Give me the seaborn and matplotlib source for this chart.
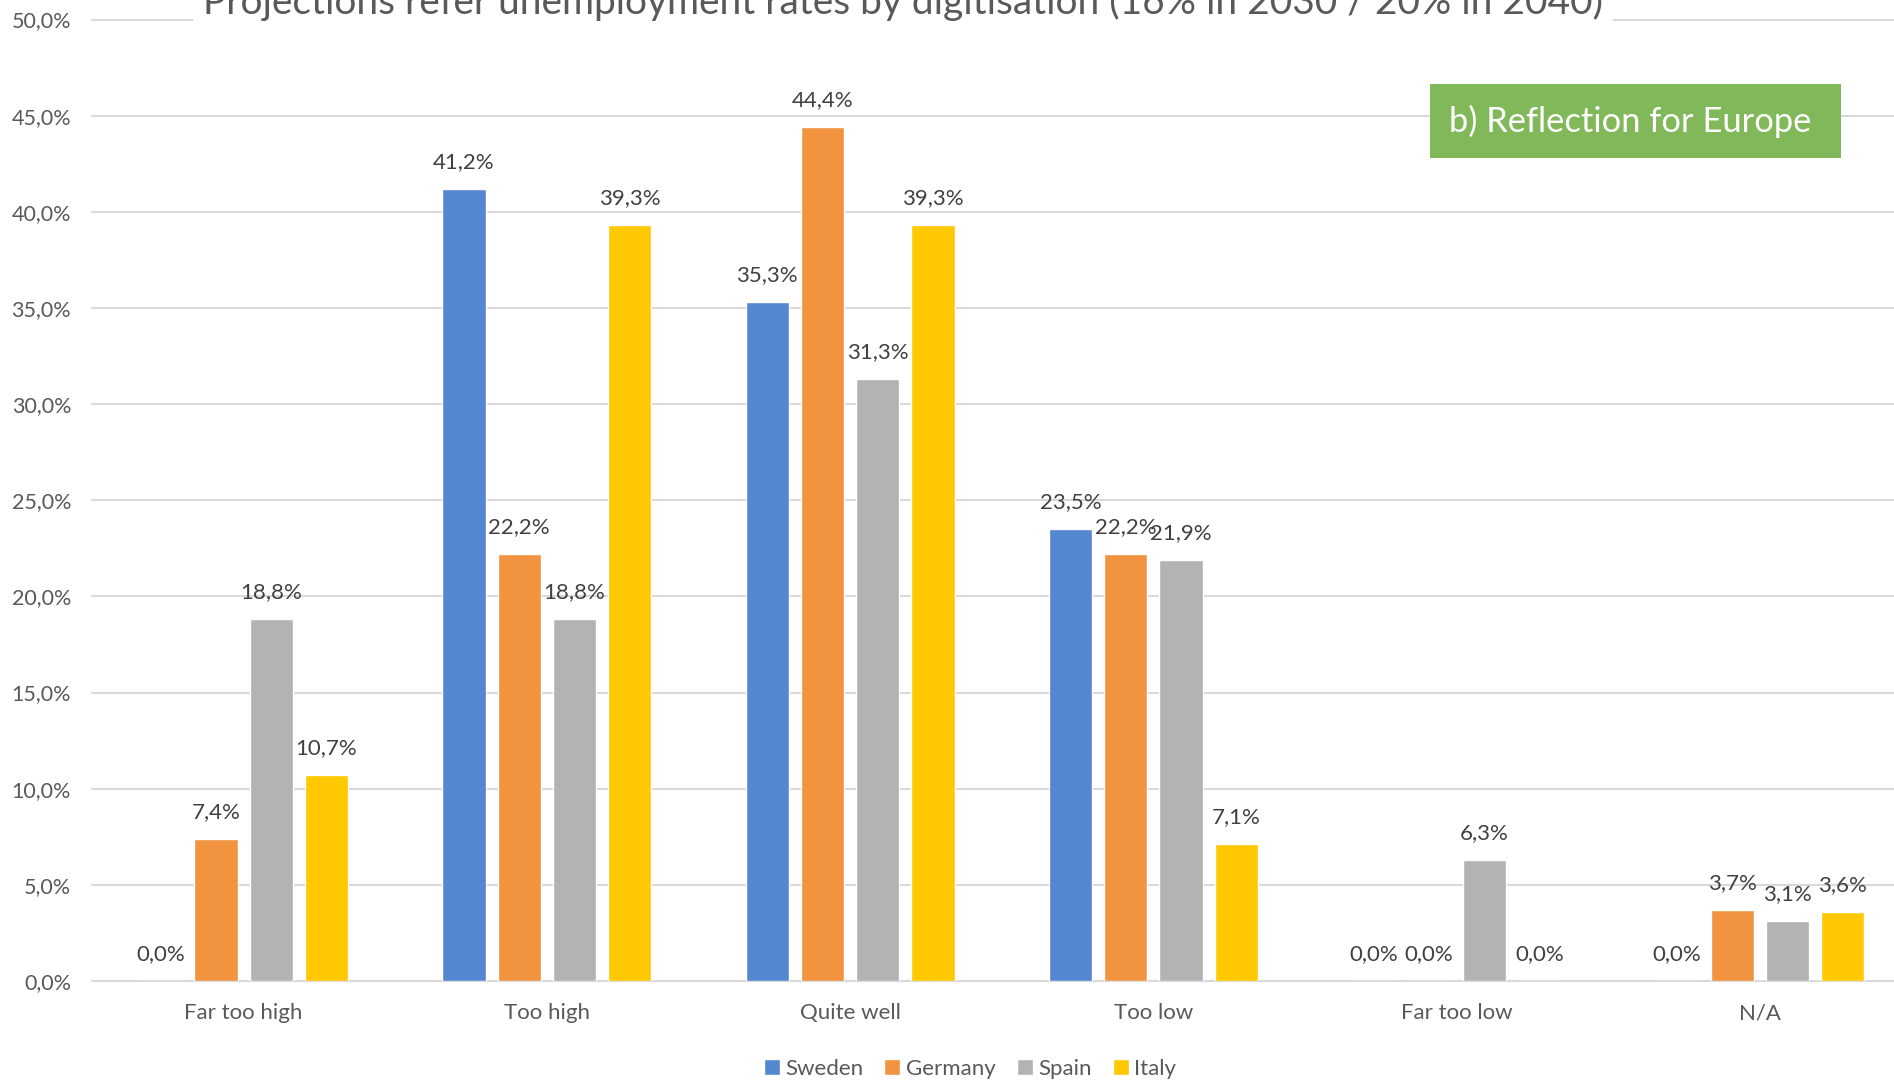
import numpy as np
import pandas as pd
import seaborn as sns
import matplotlib
matplotlib.use("Agg")
import matplotlib.pyplot as plt
from matplotlib.patches import Rectangle
from matplotlib.ticker import FuncFormatter, MultipleLocator

# Survey answers (share of respondents, %)
categories = ["Far too high", "Too high", "Quite well", "Too low", "Far too low", "N/A"]
countries = ["Sweden", "Germany", "Spain", "Italy"]
sweden = [0.0, 41.2, 35.3, 23.5, 0.0, 0.0]
germany = [7.4, 22.2, 44.4, 22.2, 0.0, 3.7]
spain = [18.8, 18.8, 31.3, 21.9, 6.3, 3.1]
italy = [10.7, 39.3, 39.3, 7.1, 0.0, 3.6]
colors = ["#5587D1", "#F29340", "#B3B3B3", "#FFC800"]

title = "Projections refer unemployment rates by digitisation (16% in 2030 / 20% in 2040)"
badge = "b) Reflection for Europe"

series = {"Sweden": sweden, "Germany": germany, "Spain": spain, "Italy": italy}
df = pd.DataFrame(
    [(cat, c, series[c][i]) for c in countries for i, cat in enumerate(categories)],
    columns=["answer", "country", "share"],
)

sns.set_theme(style="white")
plt.rcParams["font.family"] = ["Lato", "DejaVu Sans"]

W, H = 1894, 1084
fig = plt.figure(figsize=(W / 100, H / 100), dpi=100)
ax = fig.add_axes([92 / W, (H - 981) / H, (1911.5 - 92) / W, (981 - 19.5) / H])

sns.barplot(
    data=df, x="answer", y="share", hue="country",
    order=categories, hue_order=countries, palette=colors,
    width=0.729, gap=0.214, edgecolor="white", linewidth=1.0,
    saturation=1, ax=ax, errorbar=None,
)

ax.set_xlim(-0.5, len(categories) - 0.5)
ax.set_ylim(0, 50)
ax.yaxis.set_major_locator(MultipleLocator(5))
ax.yaxis.set_major_formatter(FuncFormatter(lambda v, _: f"{v:.1f}%".replace(".", ",")))
ax.grid(axis="y", color="#D9D9D9", linewidth=1.5)
ax.set_axisbelow(True)
for gl in ax.get_ygridlines():
    gl.set_clip_on(False)
for s in ax.spines.values():
    s.set_visible(False)
ax.set_xlabel("")
ax.set_ylabel("")
ax.tick_params(axis="y", length=0, pad=15, labelsize=15.5, labelcolor="#595959")
ax.tick_params(axis="x", length=0, pad=16, labelsize=16, labelcolor="#595959")

# value labels above each bar
for cont, c in zip(ax.containers, countries):
    for bar, v in zip(cont, series[c]):
        ax.annotate(
            f"{v:.1f}%".replace(".", ","),
            (bar.get_x() + bar.get_width() / 2, bar.get_height()),
            xytext=(0, 27), textcoords="offset pixels",
            ha="center", va="center", fontsize=16, color="#404040",
        )

# legend at the bottom
handles, labels = ax.get_legend_handles_labels()
ax.legend(
    handles, labels, loc="center", bbox_to_anchor=(970 / W, 15 / H),
    bbox_transform=fig.transFigure, ncol=4, frameon=False,
    handlelength=0.72, handleheight=0.72, handletextpad=0.25,
    columnspacing=0.95, fontsize=16, labelcolor="#595959",
)

# title sitting on the top gridline
fig.text(
    903 / W, (H - 14) / H, title, ha="center", va="baseline",
    fontsize=28, fontweight="normal", color="#595959",
    bbox=dict(boxstyle="square,pad=0.25", facecolor="white", edgecolor="none"),
)

# green badge
fig.patches.append(Rectangle(
    (1430 / W, (H - 158) / H), 411 / W, 74 / H,
    transform=fig.transFigure, facecolor="#81B85A", edgecolor="none", zorder=5,
))
fig.text(1630 / W, (H - 121) / H, badge, ha="center", va="center",
         fontsize=24.8, color="white", zorder=6)

fig.savefig("out.png", dpi=100)
